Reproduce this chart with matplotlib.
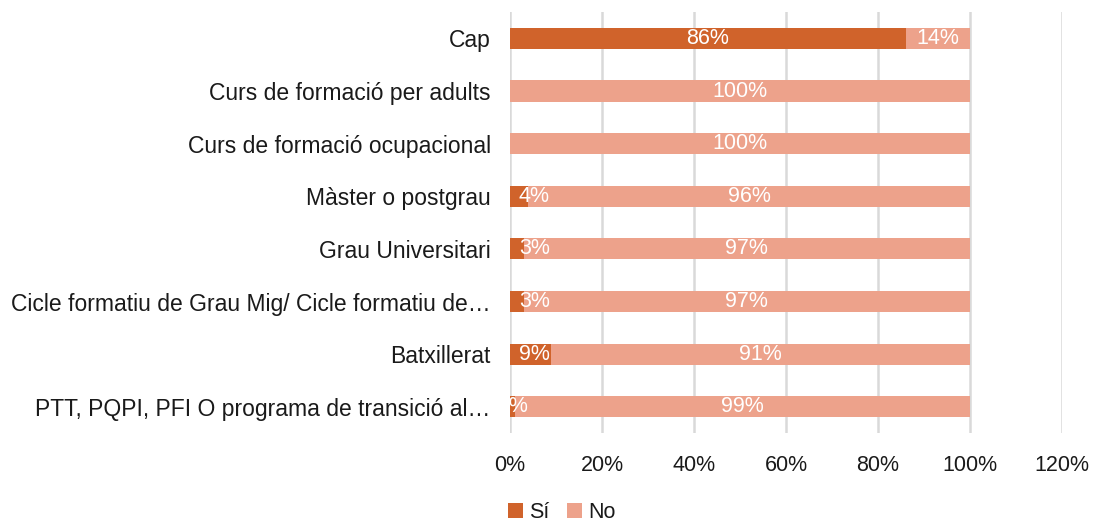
import matplotlib
matplotlib.use("Agg")
import matplotlib.pyplot as plt

categories = [
    "Cap",
    "Curs de formació per adults",
    "Curs de formació ocupacional",
    "Màster o postgrau",
    "Grau Universitari",
    "Cicle formatiu de Grau Mig/ Cicle formatiu de…",
    "Batxillerat",
    "PTT, PQPI, PFI O programa de transició al…",
]
si_values = [86, 0, 0, 4, 3, 3, 9, 1]
no_values = [14, 100, 100, 96, 97, 97, 91, 99]
x_ticks = [0, 20, 40, 60, 80, 100, 120]
series_names = ["Sí", "No"]

plt.rcParams["font.family"] = ["Liberation Sans", "DejaVu Sans"]

SI_COLOR = "#D0632B"
NO_COLOR = "#EDA28B"
TEXT_COLOR = "#1A1A1A"

fig = plt.figure(figsize=(10.97, 5.25), dpi=100)
ax = fig.add_axes([0.465, 0.175, 0.503, 0.802])

y = list(range(len(categories)))
h = 0.4
ax.barh(y, si_values, height=h, color=SI_COLOR, label=series_names[0], zorder=2)
ax.barh(y, no_values, left=si_values, height=h, color=NO_COLOR, label=series_names[1], zorder=2)

label_kw = dict(ha="center", va="center", color="white", fontsize=15.5, zorder=3, clip_on=True)
for yi, s, n in zip(y, si_values, no_values):
    if s > 0:
        xs = s / 2 if s < 2 else max(s / 2, 5.3)
        ax.text(xs, yi, f"{s}%", **label_kw)
    ax.text(s + n / 2, yi, f"{n}%", **label_kw)

ax.set_xlim(0, 120)
ax.set_ylim(len(categories) - 0.5, -0.5)
ax.set_xticks(x_ticks)
ax.set_xticklabels([f"{t}%" for t in x_ticks])
ax.set_yticks(y)
ax.set_yticklabels(categories)
ax.tick_params(axis="x", length=0, labelsize=15.5, colors=TEXT_COLOR, pad=16)
ax.tick_params(axis="y", length=0, labelsize=16.5, colors=TEXT_COLOR, pad=14)
ax.xaxis.grid(True, color="#D9D9D9", linewidth=1.8, zorder=0)
ax.set_axisbelow(True)
for sp in ax.spines.values():
    sp.set_visible(False)

fig.legend(loc="center", bbox_to_anchor=(0.512, 0.023), ncol=2, frameon=False,
           fontsize=15.5, handlelength=0.7, handleheight=0.7, handletextpad=0.3,
           columnspacing=0.8, labelcolor=TEXT_COLOR)

fig.savefig("out.png", dpi=100, facecolor="white")
